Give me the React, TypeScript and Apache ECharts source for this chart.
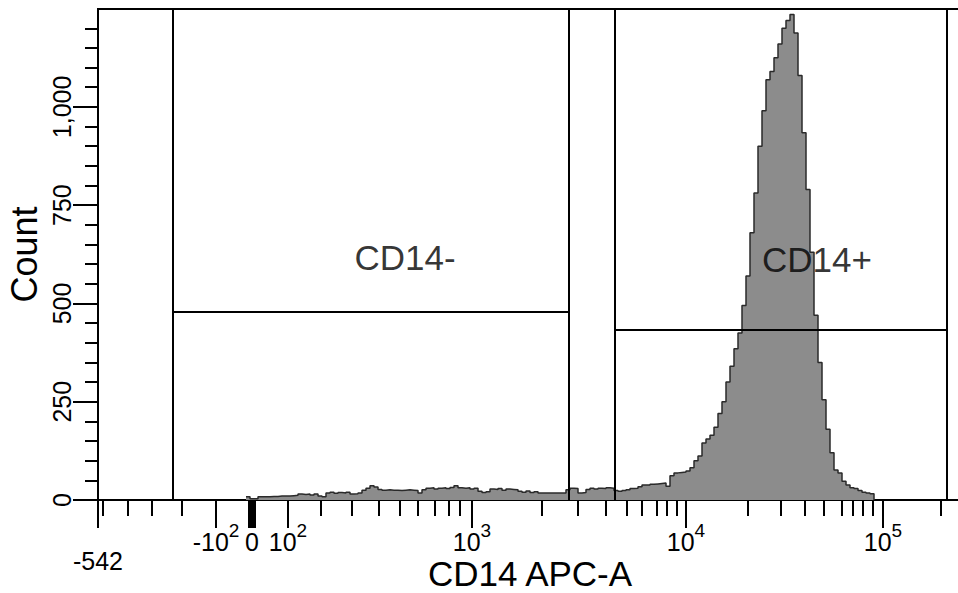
import React, { useEffect, useRef } from 'react';
import * as echarts from 'echarts';

// Histogram: counts per display channel (logicle display scale), starting at channel 37
const HIST_START_CHANNEL = 37;
const HIST_COUNTS = [
  8, 3, 3, 8, 8, 8, 9, 9, 10, 10,
  10, 11, 12, 15, 14, 15, 13, 15, 10, 8,
  18, 20, 17, 19, 18, 20, 15, 16, 18, 25,
  30, 36, 33, 27, 25, 26, 25, 25, 24, 25,
  26, 25, 24, 18, 26, 30, 31, 28, 30, 31,
  29, 32, 36, 31, 30, 31, 28, 30, 22, 19,
  21, 28, 27, 29, 25, 28, 27, 26, 22, 20,
  23, 19, 21, 18, 18, 18, 18, 18, 18, 18,
  26, 30, 29, 18, 19, 27, 30, 28, 30, 29,
  31, 30, 24, 22, 24, 26, 29, 30, 34, 38,
  38, 40, 41, 42, 43, 35, 62, 69, 70, 71,
  74, 82, 100, 112, 145, 155, 165, 185, 220, 250,
  300, 340, 385, 425, 495, 570, 680, 781, 900, 990,
  1069, 1090, 1125, 1160, 1200, 1220, 1235, 1188, 1080, 934,
  790, 630, 470, 350, 255, 180, 120, 76, 69, 48,
  38, 31, 29, 24, 20, 18, 16, 0,
];

const X_MAX_CHANNEL = 220;
const Y_MAX_COUNT = 1249;

// x axis (display channels) – major ticks with labels
const X_MAJOR_TICKS = [0, 29.5, 38.5, 47.5, 93.5, 147, 196.25];
const X_MAJOR_LABELS = ['-542', '-10^2', '0', '10^2', '10^3', '10^4', '10^5'];
// minor ticks: -500..-200, 200..900, 2000..9000, 20000..90000, 200000
const X_MINOR_TICKS = [
  1.25, 7.5, 13.5, 21,
  55.75, 63.5, 70.25, 75.5, 80, 84.25, 87.75, 90.5,
  111, 120, 127, 132.25, 136, 139.75, 142.25, 144.75,
  162.5, 170.75, 176.75, 181.5, 186, 188.75, 191.25, 193.75,
  210.75,
];
const X_ZERO_TICK = [38.5];

const Y_MAJOR_TICKS = [0, 250, 500, 750, 1000];
const Y_MINOR_TICKS = [
  50, 100, 150, 200, 300, 350, 400, 450, 550, 600, 650, 700,
  800, 850, 900, 950, 1050, 1100, 1150, 1200,
];

// Gates (channel range, count level)
const GATE_NAMES = ['CD14-', 'CD14+'];
const GATE_FROM = [18.75, 129.25];
const GATE_TO = [117.75, 212.25];
const GATE_LEVEL = [478, 433];
const GATE_LABEL_X = [76.75, 179.75];
const GATE_LABEL_Y = [616, 611];

const FONT = '"Liberation Sans", Arial, sans-serif';

export default function App() {
  const ref = useRef<HTMLDivElement>(null);

  useEffect(() => {
    if (!ref.current) return;
    const chart = echarts.init(ref.current, null, { renderer: 'svg' });

    const histData = HIST_COUNTS.map((v, i) => [HIST_START_CHANNEL + i, v]);

    const gateLines: any[] = [];
    GATE_NAMES.forEach((_, i) => {
      gateLines.push([{ coord: [GATE_FROM[i], 0] }, { coord: [GATE_FROM[i], Y_MAX_COUNT] }]);
      gateLines.push([{ coord: [GATE_TO[i], 0] }, { coord: [GATE_TO[i], Y_MAX_COUNT] }]);
      gateLines.push([{ coord: [GATE_FROM[i], GATE_LEVEL[i]] }, { coord: [GATE_TO[i], GATE_LEVEL[i]] }]);
    });

    const xLabelFmt = (v: number) => {
      const i = X_MAJOR_TICKS.indexOf(v);
      if (i < 0) return '';
      const t = X_MAJOR_LABELS[i];
      if (i === 0) return `{low|${t}}`;
      const m = t.match(/^(-?10)\^(\d)$/);
      return m ? `{n|${m[1]}}{s|${m[2]}}` : `{n|${t}}`;
    };

    const black = '#000';

    chart.setOption({
      animation: false,
      backgroundColor: '#fff',
      grid: {
        left: 98,
        top: 9,
        width: 880,
        height: 491,
        show: true,
        borderColor: black,
        borderWidth: 2,
        backgroundColor: 'transparent',
        containLabel: false,
        outerBoundsMode: 'none',
      },
      xAxis: [
        {
          type: 'value',
          position: 'bottom',
          min: 0,
          max: X_MAX_CHANNEL,
          name: 'CD14 APC-A',
          nameLocation: 'middle',
          nameGap: 57,
          nameMoveOverlap: false,
          nameTextStyle: { fontSize: 35, lineHeight: 32, color: black, fontFamily: FONT, padding: [0, 16, 0, 0] },
          axisLine: { show: true, onZero: false, lineStyle: { color: black, width: 2 } },
          axisTick: { show: true, customValues: X_MAJOR_TICKS, length: 28, lineStyle: { color: black, width: 2 } },
          axisLabel: {
            show: true,
            customValues: X_MAJOR_TICKS,
            formatter: xLabelFmt,
            margin: 21,
            color: black,
            fontFamily: FONT,
            rich: {
              n: { fontSize: 25, lineHeight: 33, verticalAlign: 'bottom', fontFamily: FONT, color: black },
              s: { fontSize: 19, lineHeight: 33, verticalAlign: 'top', fontFamily: FONT, color: black },
              low: { fontSize: 25, lineHeight: 52, verticalAlign: 'bottom', fontFamily: FONT, color: black },
            },
          },
          splitLine: { show: false },
        },
        {
          type: 'value',
          position: 'bottom',
          min: 0,
          max: X_MAX_CHANNEL,
          axisLine: { show: false },
          axisTick: { show: true, customValues: X_MINOR_TICKS, length: 16, lineStyle: { color: black, width: 2 } },
          axisLabel: { show: false },
          splitLine: { show: false },
        },
        {
          type: 'value',
          position: 'bottom',
          min: 0,
          max: X_MAX_CHANNEL,
          axisLine: { show: false },
          axisTick: { show: true, customValues: X_ZERO_TICK, length: 28, lineStyle: { color: black, width: 8 } },
          axisLabel: { show: false },
          splitLine: { show: false },
        },
      ],
      yAxis: [
        {
          type: 'value',
          position: 'left',
          min: 0,
          max: Y_MAX_COUNT,
          name: 'Count',
          nameLocation: 'middle',
          nameRotate: 90,
          nameGap: 56,
          nameMoveOverlap: false,
          nameTextStyle: { fontSize: 36, color: black, fontFamily: FONT },
          axisLine: { show: true, onZero: false, lineStyle: { color: black, width: 2 } },
          axisTick: { show: true, customValues: Y_MAJOR_TICKS, length: 25, lineStyle: { color: black, width: 2 } },
          axisLabel: {
            show: true,
            customValues: Y_MAJOR_TICKS,
            rotate: 90,
            margin: 24,
            fontSize: 25,
            color: black,
            fontFamily: FONT,
            formatter: (v: number) => v.toLocaleString('en-US'),
          },
          splitLine: { show: false },
        },
        {
          type: 'value',
          position: 'left',
          min: 0,
          max: Y_MAX_COUNT,
          axisLine: { show: false },
          axisTick: { show: true, customValues: Y_MINOR_TICKS, length: 13, lineStyle: { color: black, width: 2 } },
          axisLabel: { show: false },
          splitLine: { show: false },
        },
      ],
      series: [
        {
          type: 'line',
          xAxisIndex: 0,
          yAxisIndex: 0,
          step: 'end',
          data: histData,
          symbol: 'none',
          lineStyle: { color: '#2a2a2a', width: 1.5 },
          areaStyle: { color: '#8c8c8c', opacity: 1 },
          z: 2,
          markLine: {
            silent: true,
            symbol: ['none', 'none'],
            label: { show: false },
            lineStyle: { color: black, width: 2, type: 'solid' },
            data: gateLines,
            z: 5,
          },
        },
        {
          type: 'scatter',
          xAxisIndex: 0,
          yAxisIndex: 0,
          symbolSize: 0,
          silent: true,
          data: GATE_NAMES.map((n, i) => [GATE_LABEL_X[i], GATE_LABEL_Y[i], n]),
          label: {
            show: true,
            position: 'inside',
            formatter: (p: any) => p.value[2],
            fontSize: 35,
            color: black,
            fontFamily: FONT,
          },
          z: 6,
        },
      ],
    });

    return () => {
      chart.dispose();
    };
  }, []);

  return (
    <div
      ref={ref}
      style={{ position: 'fixed', left: 0, top: 0, width: 958, height: 593, overflow: 'hidden' }}
    />
  );
}
